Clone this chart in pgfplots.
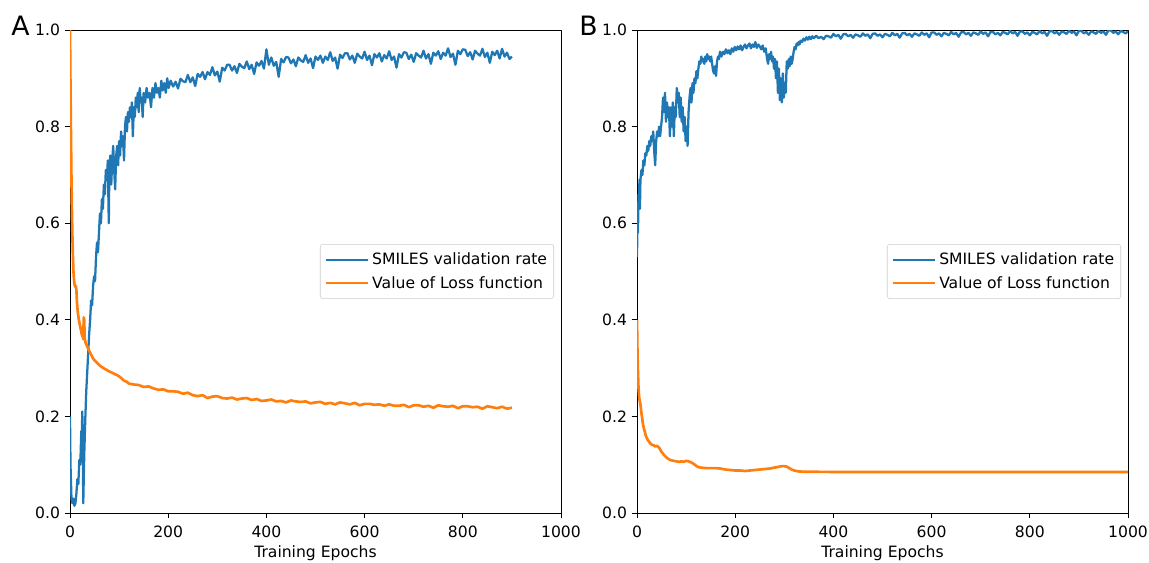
\documentclass[border=0pt]{standalone}
\usepackage{pgfplots}
\pgfplotsset{compat=1.18}
\usepackage{fontspec}
\setmainfont{DejaVu Sans}
\definecolor{tabblue}{RGB}{31,119,180}
\definecolor{taborange}{RGB}{255,127,14}

\pgfplotsset{
  panel/.style={
    width=368.25pt, height=362.25pt, scale only axis,
    xmin=0, xmax=1000, ymin=0, ymax=1,
    xtick={0,200,400,600,800,1000},
    ytick={0,0.2,0.4,0.6,0.8,1.0},
    tick align=outside, xtick pos=bottom, ytick pos=left,
    major tick length=4pt,
    tick style={black, line width=0.6pt},
    axis line style={line width=0.6pt},
    every axis/.append style={font=\fontsize{11.7}{14}\selectfont},
    /pgf/number format/assume math mode=true,
    /pgf/number format/1000 sep={},
    yticklabel style={/pgf/number format/.cd, fixed, fixed zerofill, precision=1, 1000 sep={}},
    xticklabel style={yshift=-2pt, /pgf/number format/.cd, fixed, precision=0, 1000 sep={}},
    xlabel={Training Epochs},
    xlabel style={font=\fontsize{11.7}{14}\selectfont, yshift=1pt},
    legend cell align=left,
    legend style={at={(1,0.5)}, anchor=east, xshift=-5.25pt,
      draw=black!20, rounded corners=2pt, fill=white,
      font=\fontsize{11.7}{14}\selectfont, inner xsep=3pt, inner ysep=4.5pt,
      row sep=3pt},
    legend image code/.code={\draw[#1, line width=1.2pt] (0pt,0pt) -- (26pt,0pt);
      \path (0pt,0pt) -- (32pt,0pt);},
    line join=round,
  },
  blueline/.style={tabblue, line width=1.7pt, line join=round},
  orangeline/.style={taborange, line width=2pt, line join=round},
}

\begin{document}
\begin{tikzpicture}
\useasboundingbox (-52.5pt,-36.75pt) rectangle (809.25pt,384.75pt);

% ---------------- Panel A ----------------
\begin{axis}[panel, name=a, at={(0pt,0pt)}, anchor=south west]
\addplot[blueline] table {
0 0.20
1 0.10
3 0.03
5 0.02
7 0.03
9 0.015
11 0.02
13 0.04
15 0.07
17 0.06
19 0.11
21 0.10
23 0.17
24 0.15
25 0.21
26 0.16
27 0.02
29 0.12
31 0.19
33 0.25
35 0.29
37 0.33
39 0.37
41 0.40
43 0.44
45 0.43
47 0.47
49 0.49
51 0.48
53 0.53
55 0.56
57 0.54
59 0.58
61 0.62
63 0.60
65 0.65
67 0.63
69 0.68
71 0.66
73 0.71
75 0.69
77 0.73
79 0.60
80 0.70
82 0.74
84 0.68
86 0.73
88 0.76
90 0.71
92 0.67
94 0.74
96 0.76
98 0.72
100 0.77
102 0.74
104 0.79
106 0.76
108 0.78
110 0.73
112 0.80
114 0.82
116 0.79
118 0.83
120 0.81
122 0.84
124 0.82
126 0.85
128 0.78
130 0.84
132 0.82
134 0.86
136 0.84
138 0.87
140 0.83
142 0.88
144 0.85
146 0.86
148 0.82
150 0.87
153 0.85
156 0.88
159 0.86
162 0.87
165 0.84
168 0.88
171 0.86
174 0.89
177 0.87
180 0.88
183 0.86
186 0.895
189 0.875
192 0.89
195 0.87
198 0.90
201 0.88
205 0.895
210 0.883
215 0.893
220 0.879
225 0.899
230 0.894
235 0.892
240 0.907
245 0.892
250 0.902
255 0.884
260 0.909
265 0.903
270 0.913
275 0.898
280 0.913
285 0.907
290 0.923
295 0.906
300 0.914
305 0.893
310 0.922
315 0.916
320 0.928
325 0.928
330 0.916
335 0.925
340 0.911
345 0.930
350 0.924
355 0.921
360 0.935
365 0.919
370 0.928
375 0.909
380 0.933
385 0.926
390 0.936
395 0.920
400 0.960
405 0.928
410 0.943
415 0.926
420 0.934
425 0.903
430 0.940
435 0.933
440 0.944
445 0.943
450 0.931
455 0.939
460 0.925
465 0.943
470 0.937
475 0.934
480 0.948
485 0.932
490 0.941
495 0.921
500 0.945
505 0.938
510 0.947
515 0.932
520 0.945
525 0.938
530 0.954
535 0.936
540 0.943
545 0.920
550 0.949
555 0.942
560 0.952
565 0.952
570 0.939
575 0.947
580 0.932
585 0.951
590 0.945
595 0.941
600 0.955
605 0.938
610 0.947
615 0.927
620 0.950
625 0.943
630 0.952
635 0.935
640 0.948
645 0.941
650 0.956
655 0.938
660 0.945
665 0.922
670 0.950
675 0.943
680 0.954
685 0.953
690 0.940
695 0.949
700 0.934
705 0.952
710 0.947
715 0.943
720 0.957
725 0.941
730 0.950
735 0.930
740 0.953
745 0.947
750 0.956
755 0.940
760 0.953
765 0.947
770 0.962
775 0.944
780 0.951
785 0.928
790 0.957
795 0.950
800 0.960
805 0.959
810 0.946
815 0.954
820 0.939
825 0.957
830 0.951
835 0.947
840 0.961
845 0.944
850 0.953
855 0.932
860 0.955
865 0.948
870 0.957
875 0.941
880 0.961
885 0.945
890 0.953
895 0.940
900 0.945
};
\addlegendentry{SMILES validation rate}
\addplot[orangeline] table {
0 1.00
1 0.88
2 0.78
3 0.69
4 0.62
5 0.57
6 0.53
7 0.50
8 0.485
9 0.475
10 0.47
11 0.468
12 0.47
13 0.462
14 0.44
15 0.425
16 0.415
18 0.40
20 0.39
22 0.38
24 0.37
26 0.365
27 0.36
28 0.405
29 0.40
30 0.36
32 0.352
35 0.345
38 0.338
41 0.332
44 0.326
47 0.32
50 0.316
55 0.311
60 0.306
65 0.302
70 0.299
75 0.296
80 0.293
85 0.291
90 0.288
95 0.286
100 0.283
105 0.279
110 0.274
115 0.272
120 0.268
130 0.266
140 0.265
150 0.261
160 0.262
170 0.258
180 0.255
190 0.256
200 0.252
210 0.252
220 0.251
230 0.247
240 0.249
250 0.244
260 0.242
270 0.244
280 0.238
290 0.241
300 0.242
310 0.238
320 0.237
330 0.239
340 0.235
350 0.237
360 0.238
370 0.234
380 0.236
390 0.232
400 0.233
410 0.235
420 0.231
430 0.232
440 0.229
450 0.233
460 0.231
470 0.230
480 0.231
490 0.227
500 0.229
510 0.230
520 0.226
530 0.228
540 0.225
550 0.229
560 0.227
570 0.225
580 0.228
590 0.223
600 0.226
610 0.226
620 0.224
630 0.225
640 0.222
650 0.225
660 0.222
670 0.222
680 0.224
690 0.219
700 0.223
710 0.223
720 0.220
730 0.222
740 0.218
750 0.223
760 0.221
770 0.220
780 0.222
790 0.217
800 0.221
810 0.221
820 0.219
830 0.220
840 0.216
850 0.221
860 0.219
870 0.217
880 0.220
890 0.216
900 0.218
};
\addlegendentry{Value of Loss function}
\end{axis}

% ---------------- Panel B ----------------
\begin{axis}[panel, name=b, at={(425.25pt,0pt)}, anchor=south west]
\addplot[blueline] table {
0 0.53
1 0.62
2 0.58
3 0.66
4 0.64
5 0.69
6 0.63
7 0.69
9 0.71
11 0.70
13 0.73
15 0.72
17 0.745
19 0.74
21 0.76
23 0.75
25 0.77
27 0.76
29 0.78
31 0.77
33 0.79
35 0.75
37 0.72
39 0.77
41 0.79
43 0.78
45 0.80
47 0.78
49 0.80
51 0.82
53 0.86
55 0.83
57 0.87
59 0.81
61 0.85
63 0.82
65 0.84
67 0.78
69 0.84
71 0.80
73 0.85
75 0.78
77 0.84
79 0.82
81 0.88
83 0.85
85 0.87
87 0.82
89 0.86
91 0.81
93 0.84
95 0.79
97 0.82
99 0.77
101 0.80
103 0.76
105 0.83
107 0.86
109 0.88
111 0.85
113 0.89
115 0.87
117 0.90
119 0.89
121 0.915
123 0.90
125 0.92
127 0.935
129 0.93
131 0.945
133 0.935
135 0.94
137 0.93
139 0.945
141 0.935
143 0.95
145 0.94
147 0.945
149 0.935
151 0.945
153 0.93
155 0.915
157 0.91
159 0.925
161 0.905
163 0.935
165 0.945
167 0.94
169 0.955
172 0.945
175 0.955
178 0.95
181 0.96
184 0.952
187 0.958
190 0.95
193 0.962
196 0.955
199 0.965
202 0.958
205 0.966
208 0.96
211 0.968
214 0.958
217 0.965
220 0.97
223 0.962
226 0.968
229 0.972
232 0.962
235 0.97
238 0.965
241 0.975
244 0.963
247 0.97
250 0.966
253 0.96
256 0.968
259 0.955
262 0.962
265 0.94
267 0.93
269 0.95
271 0.94
273 0.955
275 0.935
277 0.945
279 0.92
281 0.94
283 0.90
285 0.935
287 0.87
289 0.92
291 0.855
293 0.90
295 0.85
297 0.91
299 0.86
301 0.89
303 0.87
305 0.935
307 0.92
309 0.94
311 0.925
313 0.945
315 0.93
317 0.94
319 0.955
321 0.965
323 0.96
325 0.972
327 0.968
329 0.975
331 0.97
333 0.978
336 0.975
339 0.982
342 0.978
345 0.985
348 0.98
351 0.986
354 0.981
357 0.987
360 0.983
365 0.988
370 0.983
375 0.986
380 0.981
385 0.988
390 0.987
395 0.984
400 0.992
405 0.987
410 0.990
415 0.982
420 0.991
425 0.992
430 0.987
435 0.990
440 0.984
445 0.991
450 0.989
455 0.986
460 0.993
465 0.988
470 0.991
475 0.983
480 0.992
485 0.993
490 0.988
495 0.991
500 0.985
505 0.992
510 0.990
515 0.987
520 0.994
525 0.989
530 0.992
535 0.984
540 0.993
545 0.994
550 0.989
555 0.992
560 0.986
565 0.993
570 0.991
575 0.988
580 0.995
585 0.990
590 0.993
595 0.985
600 0.995
605 0.995
610 0.990
615 0.993
620 0.987
625 0.994
630 0.992
635 0.989
640 0.996
645 0.991
650 0.994
655 0.986
660 0.995
665 0.996
670 0.991
675 0.994
680 0.988
685 0.995
690 0.993
695 0.990
700 0.997
705 0.992
710 0.995
715 0.987
720 0.996
725 0.996
730 0.991
735 0.994
740 0.989
745 0.996
750 0.994
755 0.991
760 0.998
765 0.993
770 0.996
775 0.988
780 0.997
785 0.997
790 0.992
795 0.995
800 0.989
805 0.996
810 0.994
815 0.991
820 0.998
825 0.993
830 0.996
835 0.988
840 0.997
845 0.998
850 0.993
855 0.996
860 0.990
865 0.997
870 0.995
875 0.992
880 0.999
885 0.994
890 0.997
895 0.989
900 0.998
905 0.998
910 0.993
915 0.996
920 0.990
925 0.997
930 0.995
935 0.992
940 0.999
945 0.994
950 0.997
955 0.990
960 0.999
965 0.999
970 0.994
975 0.997
980 0.991
985 0.998
990 0.996
995 0.993
1000 0.997
};
\addlegendentry{SMILES validation rate}
\addplot[orangeline] table {
0 0.40
1 0.33
2 0.29
3 0.26
4 0.245
5 0.235
6 0.23
7 0.225
8 0.215
10 0.20
12 0.185
14 0.175
16 0.168
18 0.16
20 0.155
22 0.151
25 0.147
28 0.143
31 0.141
34 0.140
37 0.138
40 0.139
43 0.137
46 0.134
49 0.128
52 0.124
55 0.120
58 0.117
61 0.114
64 0.112
67 0.110
70 0.109
75 0.108
80 0.107
85 0.106
90 0.107
95 0.106
100 0.108
105 0.107
110 0.105
115 0.102
120 0.098
125 0.095
130 0.094
140 0.093
150 0.093
160 0.093
170 0.092
180 0.090
190 0.089
200 0.088
210 0.088
220 0.087
230 0.088
240 0.089
250 0.090
260 0.091
270 0.092
280 0.094
290 0.096
295 0.097
300 0.097
305 0.096
310 0.093
315 0.090
320 0.088
325 0.087
330 0.086
340 0.0855
400 0.085
1000 0.085
};
\addlegendentry{Value of Loss function}
\end{axis}

\node[anchor=base east, font=\fontsize{20}{22}\selectfont, inner sep=0pt]
  at ([xshift=-30pt, yshift=-3.75pt]a.north west) {A};
\node[anchor=base east, font=\fontsize{20}{22}\selectfont, inner sep=0pt]
  at ([xshift=-29.25pt, yshift=-3.75pt]b.north west) {B};
\end{tikzpicture}
\end{document}
